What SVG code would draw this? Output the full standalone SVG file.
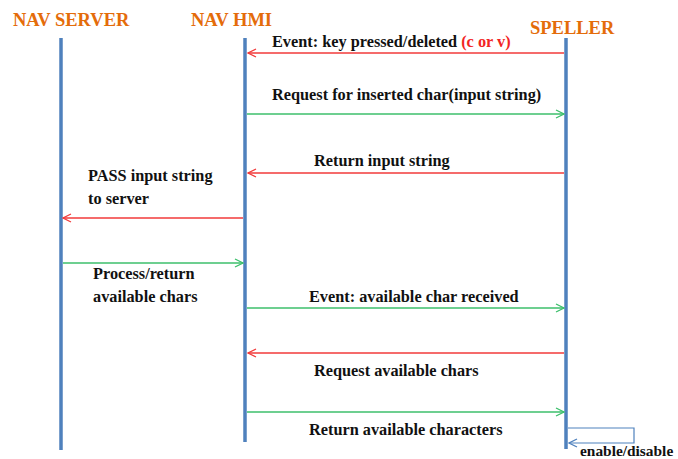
<svg xmlns="http://www.w3.org/2000/svg" width="678" height="459" viewBox="0 0 678 459">
  <style>
    .head { font-family: "Liberation Serif", "Times New Roman", serif; font-weight: bold; font-size: 18.5px; fill: #E46C0A; }
    .lbl { font-family: "Liberation Serif", "Times New Roman", serif; font-weight: bold; font-size: 16.3px; fill: #111111; }
    .small { font-size: 15.4px; }
    .life { stroke: #4F81BD; stroke-width: 3.5; fill: none; }
    .red { stroke: #F23A3A; stroke-width: 1.4; fill: none; marker-end: url(#ah-red); }
    .green { stroke: #3CBF6B; stroke-width: 1.4; fill: none; marker-end: url(#ah-green); }
    .loop { stroke: #4F81BD; stroke-width: 1.2; fill: none; marker-end: url(#ah-blue); }
  </style>
  <defs>
    <marker id="ah-red" viewBox="0 0 10 10" refX="9" refY="5" markerWidth="10" markerHeight="10" markerUnits="userSpaceOnUse" orient="auto">
      <path d="M1,1 L9,5 L1,9" fill="none" stroke="#F23A3A" stroke-width="1.3"/>
    </marker>
    <marker id="ah-green" viewBox="0 0 10 10" refX="9" refY="5" markerWidth="10" markerHeight="10" markerUnits="userSpaceOnUse" orient="auto">
      <path d="M1,1 L9,5 L1,9" fill="none" stroke="#3CBF6B" stroke-width="1.3"/>
    </marker>
    <marker id="ah-blue" viewBox="0 0 10 10" refX="9" refY="5" markerWidth="10" markerHeight="10" markerUnits="userSpaceOnUse" orient="auto">
      <path d="M1,1 L9,5 L1,9" fill="none" stroke="#4F81BD" stroke-width="1.3"/>
    </marker>
  </defs>
  <rect width="678" height="459" fill="#FFFFFF"/>

  <!-- participants with lifelines -->
  <g id="nav-server">
    <text class="head" x="13" y="26">NAV SERVER</text>
    <line class="life" x1="61" y1="38" x2="61" y2="450"/>
  </g>
  <g id="nav-hmi">
    <text class="head" x="191" y="26">NAV HMI</text>
    <line class="life" x1="245" y1="38" x2="245" y2="442"/>
  </g>
  <g id="speller">
    <text class="head" x="530" y="34">SPELLER</text>
    <line class="life" x1="566" y1="38" x2="566" y2="449"/>
  </g>

  <!-- messages -->
  <g id="connectors">
    <line class="red" x1="564" y1="53" x2="248" y2="53"/>
    <line class="green" x1="247" y1="114" x2="564" y2="114"/>
    <line class="red" x1="564" y1="173" x2="248" y2="173"/>
    <line class="red" x1="243" y1="218" x2="63" y2="218"/>
    <line class="green" x1="63" y1="263" x2="243" y2="263"/>
    <line class="green" x1="247" y1="308" x2="564" y2="308"/>
    <line class="red" x1="564" y1="353" x2="248" y2="353"/>
    <line class="green" x1="247" y1="412" x2="564" y2="412"/>
    <polyline class="loop" points="568,428 634,428 634,443 569,443"/>
  </g>

  <!-- message labels -->
  <g id="labels">
    <text class="lbl" x="272" y="47">Event: key pressed/deleted <tspan fill="#F22424">(c or v)</tspan></text>
    <text class="lbl" x="272" y="100">Request for inserted char(input string)</text>
    <text class="lbl" x="314" y="166">Return input string</text>
    <text class="lbl" x="88" y="181">PASS input string</text>
    <text class="lbl" x="88" y="204">to server</text>
    <text class="lbl" x="93" y="279">Process/return</text>
    <text class="lbl" x="93" y="302">available chars</text>
    <text class="lbl" x="309" y="302">Event: available char received</text>
    <text class="lbl" x="314" y="376">Request available chars</text>
    <text class="lbl" x="309" y="435">Return available characters</text>
    <text class="lbl small" x="580" y="456">enable/disable</text>
  </g>
</svg>
